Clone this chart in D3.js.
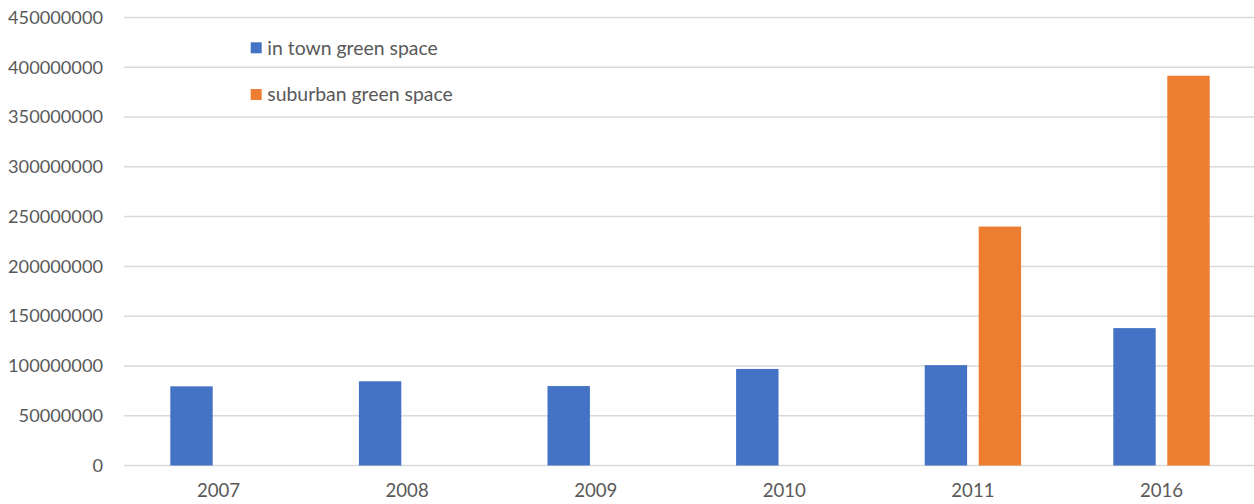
<!DOCTYPE html>
<html><head><meta charset="utf-8">
<script src="https://cdn.jsdelivr.net/npm/d3@7"></script>
<style>body{margin:0;background:#fff}svg{display:block}</style>
</head><body>
<svg id="c" width="1254" height="504"></svg>
<script>
const categories = ["2007","2008","2009","2010","2011","2016"];
const seriesNames = ["in town green space","suburban green space"];
const inTown = [79500000, 84600000, 79800000, 97000000, 100800000, 138000000];
const suburban = [0, 0, 0, 0, 240000000, 391500000];
const yTicks = [0,50000000,100000000,150000000,200000000,250000000,300000000,350000000,400000000,450000000];
const colors = ["#4472C4","#ED7D31"];

const svg = d3.select("#c");
const font = "Lato, 'Open Sans', sans-serif";
const x0 = d3.scaleBand().domain(categories).range([124.2,1255.8]).paddingInner(0.4889).paddingOuter(0.24445);
const x1 = d3.scaleBand().domain(seriesNames).range([0,x0.bandwidth()]).paddingInner(0.2148);
const y = d3.scaleLinear().domain([0,450000000]).range([465.5,17.5]);

// gridlines
svg.append("g").selectAll("line").data(yTicks).join("line")
  .attr("x1",124).attr("x2",1254)
  .attr("y1",d=>y(d)).attr("y2",d=>y(d))
  .attr("stroke","#d9d9d9").attr("stroke-width",1.5);

// y axis labels
const yAxis = d3.axisLeft(y).tickValues(yTicks).tickSize(0).tickPadding(0).tickFormat(d3.format("d"));
const ya = svg.append("g").attr("transform","translate(103,0)").call(yAxis);
ya.select(".domain").remove();
ya.selectAll("text").attr("font-family",font).attr("font-size",18.2).attr("fill","#595959");

// bars
const rows = categories.map((c,i)=>({cat:c, vals:[inTown[i],suburban[i]]}));
const g = svg.append("g").selectAll("g").data(rows).join("g")
  .attr("transform",d=>`translate(${x0(d.cat)},0)`);
g.selectAll("rect").data(d=>d.vals.map((v,j)=>({s:seriesNames[j],v,j}))).join("rect")
  .attr("x",d=>x1(d.s)).attr("width",x1.bandwidth())
  .attr("y",d=>y(d.v)).attr("height",d=>y(0)-y(d.v))
  .attr("fill",d=>colors[d.j]);

// x axis labels
const xAxis = d3.axisBottom(x0).tickSize(0).tickPadding(0);
const xa = svg.append("g").attr("transform","translate(0,484)").call(xAxis);
xa.select(".domain").remove();
xa.selectAll("text").attr("font-family",font).attr("font-size",18.6).attr("fill","#595959");

// legend
const leg = svg.append("g").selectAll("g").data(seriesNames).join("g")
  .attr("transform",(d,i)=>`translate(250.7,${42.3+i*46.7})`);
leg.append("rect").attr("width",11).attr("height",11).attr("fill",(d,i)=>colors[i]);
leg.append("text").attr("x",16.6).attr("y",5.5).attr("dy","0.35em")
  .attr("font-family",font).attr("font-size",19.4).attr("fill","#595959").text(d=>d);
</script>
</body></html>
